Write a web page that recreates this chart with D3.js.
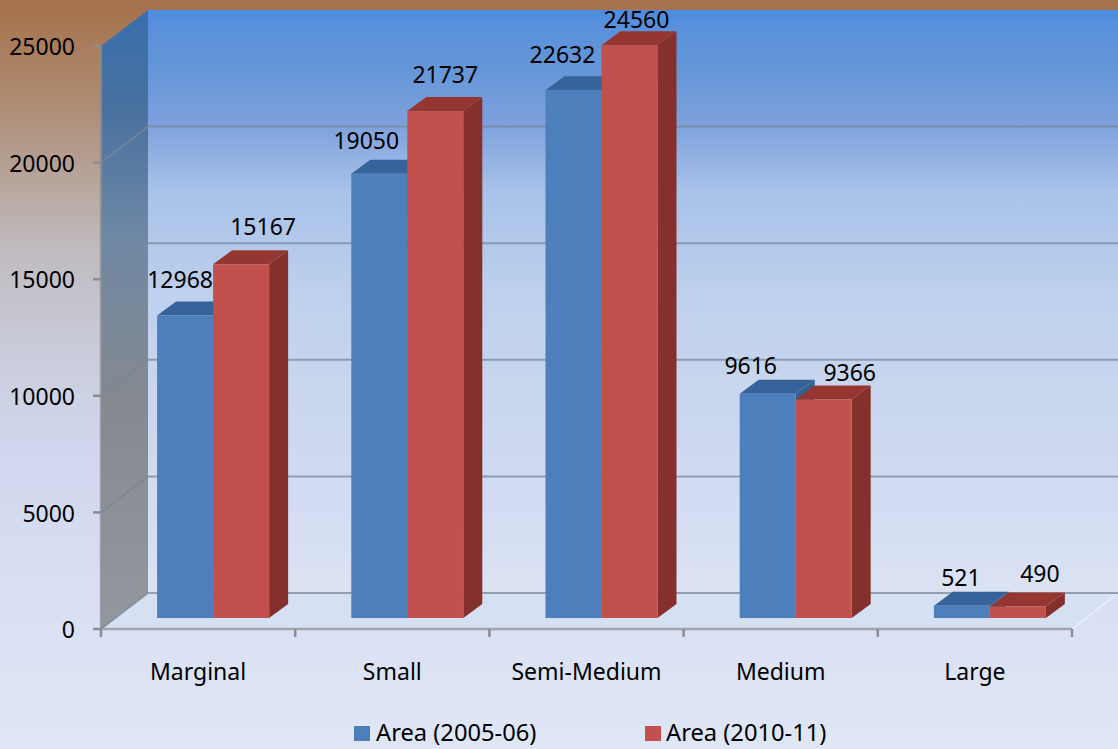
<!DOCTYPE html>
<html><head><meta charset="utf-8">
<script src="https://cdn.jsdelivr.net/npm/d3@7/dist/d3.min.js"></script>
<style>html,body{margin:0;padding:0;background:#dfe6f6}svg{display:block}text{font-family:"Noto Sans","Open Sans",sans-serif;fill:#000}</style>
</head><body><div id="c"></div>
<script>
const categories = ["Marginal","Small","Semi-Medium","Medium","Large"];
const area2005 = [12968,19050,22632,9616,521];
const area2010 = [15167,21737,24560,9366,490];
const seriesNames = ["Area (2005-06)","Area (2010-11)"];
const yTicks = [0,5000,10000,15000,20000,25000];
// hand-placed label offsets (px) from the bar's centre / top
const labelDx = [[-5,-13,-11,-17,-1],[22,10,7,26,22]];
const labelDy = [[36,33,36,28,28],[38,36,26,27,33]];

const W=1118,H=749;
const svg=d3.select("#c").append("svg").attr("width",W).attr("height",H);
const defs=svg.append("defs");
function grad(id,stops){const g=defs.append("linearGradient").attr("id",id).attr("x1",0).attr("y1",0).attr("x2",0).attr("y2",1);
  stops.forEach(s=>g.append("stop").attr("offset",s[0]).attr("stop-color",s[1]));}
grad("bg",[[0,"#a5714a"],[.13,"#ad8a70"],[.25,"#b8a79f"],[.34,"#c0bcc1"],[.47,"#c9ccda"],[.6,"#d0d7ee"],[.75,"#d7def3"],[1,"#dfe6f6"]]);
grad("wall",[[0,"#4c8ce0"],[.03,"#5a90dc"],[.09,"#6296d8"],[.19,"#7c9fdc"],[.31,"#a8c2e9"],[.5,"#bfd1ed"],[.66,"#c9d6ee"],[.86,"#d3dcf2"],[1,"#dbe3f3"]]);
grad("side",[[0,"#3a6fae"],[.15,"#47709f"],[.37,"#6f88a5"],[.63,"#85898f"],[1,"#95989f"]]);

const x0=101,x1=1072,depthX=47,depthY=-36;
const y=d3.scaleLinear().domain([0,25000]).range([629,46]);
const xAxis=d3.scaleBand().domain(categories).range([x0,x1]);
const barW=56, barBase=618, topDx=19, topDy=-14;
const hPerUnit=(y(0)-y(1000))/1000;
const barTop=v=>barBase-v*hPerUnit;

svg.append("rect").attr("width",W).attr("height",H).attr("fill","url(#bg)");
svg.append("rect").attr("x",x0+depthX).attr("y",y(25000)+depthY).attr("width",W-x0-depthX).attr("height",y(0)-y(25000)).attr("fill","url(#wall)");
svg.append("polygon").attr("points",[[x0,y(25000)],[x0+depthX,y(25000)+depthY],[x0+depthX,y(0)+depthY],[x0,y(0)]].join(" ")).attr("fill","url(#side)");
svg.append("polygon").attr("points",[[x0,y(0)],[x0+depthX,y(0)+depthY],[W,y(0)+depthY],[x1,y(0)]].join(" ")).attr("fill","#d5e1f3");
svg.append("path").attr("d",d3.line()([[x1,y(0)],[W,y(0)+depthY]])).attr("stroke","#e6ecf7").attr("stroke-width",2).attr("fill","none");
const gridC="#768699";
yTicks.filter(t=>t<25000).forEach(t=>{
  svg.append("path").attr("d",d3.line()([[x0,y(t)],[x0+depthX,y(t)+depthY],[W,y(t)+depthY]])).attr("fill","none").attr("stroke",gridC).attr("stroke-width",2).attr("opacity",.72);
});
const axis=svg.append("g").attr("stroke","#8a8d92").attr("stroke-width",2.5).attr("fill","none");
axis.append("path").attr("d",`M${x0},${y(25000)}V${y(0)}H${x1}`).attr("opacity",.7);
yTicks.forEach(t=>axis.append("path").attr("d",`M${x0-8},${y(t)}H${x0}`));
[...categories.map(c=>xAxis(c)),x1].forEach(v=>axis.append("path").attr("d",`M${v},${y(0)}v8`));
yTicks.forEach(t=>svg.append("text").attr("x",75).attr("y",y(t)+1).attr("dy",".36em").attr("text-anchor","end").attr("font-size",23).text(t));
categories.forEach(c=>svg.append("text").attr("x",xAxis(c)+xAxis.bandwidth()/2).attr("y",680).attr("text-anchor","middle").attr("font-size",23).text(c));

const palette=[{f:"#4c7fbb",s:"#34608f",t:"#36639a"},{f:"#c2504c",s:"#84312e",t:"#953630"}];
const series=[area2005,area2010];
categories.forEach((c,i)=>{
  const start=xAxis(c)+(xAxis.bandwidth()-2*barW)/2+15;
  series.forEach((vals,k)=>{
    const l=start+k*barW,r=l+barW,tp=barTop(vals[i]),p=palette[k];
    svg.append("polygon").attr("points",[[r,tp],[r+topDx,tp+topDy],[r+topDx,barBase+topDy],[r,barBase]].join(" ")).attr("fill",p.s);
    svg.append("polygon").attr("points",[[l,tp],[l+topDx,tp+topDy],[r+topDx,tp+topDy],[r,tp]].join(" ")).attr("fill",p.t);
    svg.append("rect").attr("x",l).attr("y",tp).attr("width",barW).attr("height",barBase-tp).attr("fill",p.f);
  });
  series.forEach((vals,k)=>{
    svg.append("text").attr("x",start+k*barW+barW/2+labelDx[k][i]).attr("y",barTop(vals[i])-labelDy[k][i]).attr("dy",".36em").attr("text-anchor","middle").attr("font-size",23).text(vals[i]);
  });
});
[[354,376],[645,666]].forEach((p,k)=>{
  svg.append("rect").attr("x",p[0]).attr("y",726).attr("width",16).attr("height",15).attr("fill",palette[k].f);
  svg.append("text").attr("x",p[1]).attr("y",741).attr("font-size",23.7).text(seriesNames[k]);
});
</script></body></html>
